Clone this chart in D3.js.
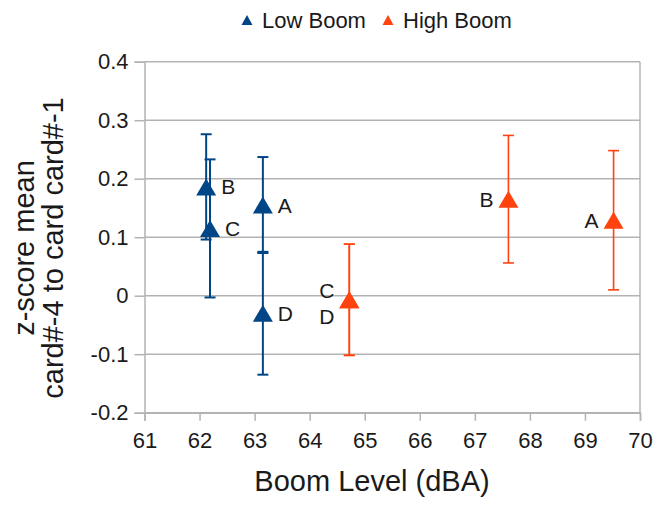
<!DOCTYPE html>
<html>
<head>
<meta charset="utf-8">
<script src="https://cdn.jsdelivr.net/npm/d3@7"></script>
<style>
  html, body { margin: 0; padding: 0; background: #fff; }
  svg { display: block; font-family: "Liberation Sans", Arial, Helvetica, sans-serif; }
</style>
</head>
<body>
<svg id="chart" width="654" height="507"></svg>
<script>
// ---- data ----
const pointNames = ["A", "B", "C", "D"];
const lowX   = [63.15, 62.12, 62.19, 63.15];
const lowY   = [0.155, 0.186, 0.115, -0.030];
const lowErr = [0.082, 0.090, 0.118, 0.105];
const highX   = [69.52, 67.61, 64.72, 64.72];
const highY   = [0.129, 0.165, -0.007, -0.007];
const highErr = [0.119, 0.109, 0.095, 0.095];
const xTicks = [61, 62, 63, 64, 65, 66, 67, 68, 69, 70];
const yTicks = [-0.2, -0.1, 0, 0.1, 0.2, 0.3, 0.4];
const yTickLabels = ["-0.2", "-0.1", "0", "0.1", "0.2", "0.3", "0.4"];
const seriesNames = ["Low Boom", "High Boom"];
const seriesColors = ["#004586", "#ff420e"];

// ---- layout ----
const svg = d3.select("#chart");
const plotL = 144.5, plotR = 640, plotT = 61.7, plotB = 412.7;
const x = d3.scaleLinear().domain([61, 70]).range([plotL, plotR]);
const y = d3.scaleLinear().domain([-0.2, 0.4]).range([plotB, plotT]);
const gridColor = "#b3b3b3";
const textColor = "#1a1a1a";

// gridlines
svg.append("g").selectAll("line").data(yTicks).join("line")
  .attr("x1", plotL).attr("x2", plotR)
  .attr("y1", d => y(d)).attr("y2", d => y(d))
  .attr("stroke", gridColor).attr("stroke-width", 1.5);
// right border
svg.append("line").attr("x1", plotR).attr("x2", plotR)
  .attr("y1", y(0.4)).attr("y2", y(-0.2))
  .attr("stroke", gridColor).attr("stroke-width", 1.5);

// axes
const xAxis = svg.append("g").attr("transform", `translate(0,${plotB})`)
  .call(d3.axisBottom(x).tickValues(xTicks).tickFormat(d3.format("d")).tickSize(8).tickPadding(6));
const yAxis = svg.append("g").attr("transform", `translate(${plotL},0)`)
  .call(d3.axisLeft(y).tickValues(yTicks).tickFormat((d, i) => yTickLabels[i]).tickSize(10).tickPadding(6));
[xAxis, yAxis].forEach(g => {
  g.select(".domain").attr("stroke", gridColor).attr("stroke-width", 1.5);
  g.selectAll(".tick line").attr("stroke", gridColor).attr("stroke-width", 1.5);
  g.selectAll(".tick text").attr("fill", textColor)
    .style("font-size", "22px").style("font-family", "'Liberation Sans', Arial, sans-serif");
});
xAxis.selectAll(".tick text").attr("dy", "0.98em");

// axis titles
svg.append("text").attr("x", 372).attr("y", 491).attr("text-anchor", "middle")
  .attr("fill", textColor).style("font-size", "29px").text("Boom Level (dBA)");
const yt = svg.append("text").attr("transform", "translate(0,248) rotate(-90)")
  .attr("text-anchor", "middle").attr("fill", textColor).style("font-size", "29px");
yt.append("tspan").attr("x", 0).attr("y", 34).text("z-score mean");
yt.append("tspan").attr("x", 0).attr("y", 63).text("card#-4 to card card#-1");

// triangle marker path centered on its bounding box
function tri(w, h) {
  return `M0,${-h/2}L${w/2},${h/2}L${-w/2},${h/2}Z`;
}

const series = [
  { name: seriesNames[0], color: seriesColors[0], xs: lowX, ys: lowY, es: lowErr, side: 1, sw: 2 },
  { name: seriesNames[1], color: seriesColors[1], xs: highX, ys: highY, es: highErr, side: -1, sw: 1.6 }
];
const capW = 11;

series.forEach(s => {
  const pts = pointNames.map((n, i) => ({ name: n, x: s.xs[i], y: s.ys[i], e: s.es[i] }));
  const g = svg.append("g");
  // error bars
  const eb = g.append("g").selectAll("g").data(pts).join("g");
  eb.append("line")
    .attr("x1", d => x(d.x)).attr("x2", d => x(d.x))
    .attr("y1", d => y(d.y + d.e)).attr("y2", d => y(d.y - d.e))
    .attr("stroke", s.color).attr("stroke-width", s.sw);
  [1, -1].forEach(sg => {
    eb.append("line")
      .attr("x1", d => x(d.x) - capW/2).attr("x2", d => x(d.x) + capW/2)
      .attr("y1", d => y(d.y + sg*d.e)).attr("y2", d => y(d.y + sg*d.e))
      .attr("stroke", s.color).attr("stroke-width", s.sw);
  });
  // markers
  g.append("g").selectAll("path").data(pts).join("path")
    .attr("d", tri(20, 17))
    .attr("transform", d => `translate(${x(d.x)},${y(d.y)})`)
    .attr("fill", s.color);
  // labels (coincident points get stacked above/below)
  g.append("g").selectAll("text").data(pts).join("text")
    .attr("x", d => x(d.x) + s.side * 15)
    .attr("y", (d, i) => {
      const dup = pts.filter(p => p.x === d.x && p.y === d.y);
      let off = 0;
      if (dup.length > 1) off = dup.indexOf(d) === 0 ? -9 : 17;
      return y(d.y) + off;
    })
    .attr("dy", "0.36em")
    .attr("text-anchor", s.side > 0 ? "start" : "end")
    .attr("fill", textColor).style("font-size", "21px")
    .text(d => d.name);
});

// legend
const legX = [247, 388];
series.forEach((s, i) => {
  svg.append("path").attr("d", tri(11, 10))
    .attr("transform", `translate(${legX[i]},20)`).attr("fill", s.color);
  svg.append("text").attr("x", legX[i] + 15).attr("y", 20).attr("dy", "0.36em")
    .attr("fill", textColor).style("font-size", "22px").text(s.name);
});
</script>
</body>
</html>
